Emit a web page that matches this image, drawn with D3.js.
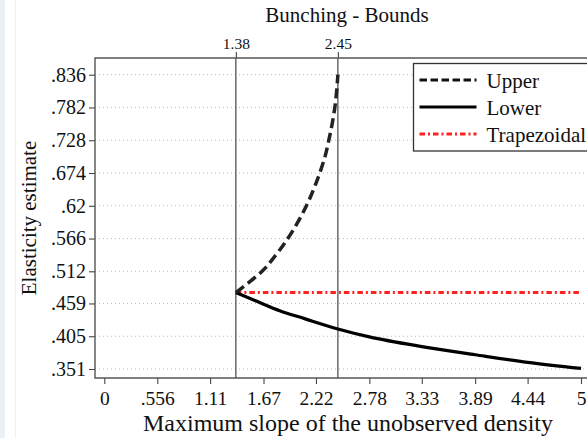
<!DOCTYPE html>
<html>
<head>
<meta charset="utf-8">
<script src="https://cdn.jsdelivr.net/npm/d3@7"></script>
<style>
  body { margin: 0; background: #fff; }
  svg { display: block; font-family: "Liberation Serif", "Times New Roman", serif; }
</style>
</head>
<body>
<script>
'use strict';

// tick values
let xTicks = [0, 0.556, 1.11, 1.67, 2.22, 2.78, 3.33, 3.89, 4.44, 5];
let xTickLabels = ["0", ".556", "1.11", "1.67", "2.22", "2.78", "3.33", "3.89", "4.44", "5"];
let yTicks = [0.351, 0.405, 0.459, 0.512, 0.566, 0.62, 0.674, 0.728, 0.782, 0.836];
let yTickLabels = [".351", ".405", ".459", ".512", ".566", ".62", ".674", ".728", ".782", ".836"];
let boundTicks = [1.38, 2.45];

// upper bound (dashed)
let upperX = [1.38, 1.52, 1.655, 1.80, 1.925, 2.03, 2.12, 2.195, 2.26, 2.315, 2.355, 2.39, 2.418, 2.437, 2.45];
let upperY = [0.477, 0.494, 0.512, 0.539, 0.566, 0.593, 0.62, 0.647, 0.674, 0.701, 0.728, 0.755, 0.782, 0.809, 0.836];

// lower bound (solid)
let lowerX = [1.38, 1.6, 1.84, 2.1, 2.45, 2.78, 3.33, 3.89, 4.44, 5];
let lowerY = [0.477, 0.4625, 0.447, 0.434, 0.417, 0.404, 0.388, 0.3745, 0.362, 0.352];

// trapezoidal estimate (flat)
let trapX = [1.38, 5];
let trapY = [0.477, 0.477];

let legendLabels = ["Upper", "Lower", "Trapezoidal"];

// layout
let W = 587, H = 438;
let frame = { left: 95, top: 58, bottom: 378, right: 620 };

let svg = d3.select("body").append("svg")
  .attr("width", W)
  .attr("height", H);

let xScale = d3.scaleLinear().domain([0, 5]).range([104.3, 581]);
let yScale = d3.scaleLinear().domain([0.351, 0.836]).range([369, 74.7]);

drawBackground();
drawAxes();
drawLines();
drawLegend();
drawLabels();

function drawBackground() {
  svg.append("rect").attr("width", W).attr("height", H).attr("fill", "#fff");
  svg.append("rect").attr("width", 5).attr("height", H).attr("fill", "#e8f1f4");
  svg.append("line")
    .attr("x1", 15.5).attr("x2", 15.5).attr("y1", 0).attr("y2", H)
    .attr("stroke", "#f0f0f0");
}

function drawAxes() {
  // horizontal dotted gridlines
  svg.append("g")
    .selectAll("line")
    .data(yTicks)
    .enter()
    .append("line")
    .attr("x1", frame.left).attr("x2", W)
    .attr("y1", d => yScale(d)).attr("y2", d => yScale(d))
    .attr("stroke", "#b8b8b8")
    .attr("stroke-width", 1)
    .attr("stroke-dasharray", "1,3");

  // y axis
  let yAxis = d3.axisLeft(yScale)
    .tickValues(yTicks)
    .tickFormat((d, i) => yTickLabels[i])
    .tickSize(6)
    .tickPadding(3);
  let gy = svg.append("g")
    .attr("transform", "translate(" + frame.left + ",0)")
    .call(yAxis);
  gy.select(".domain").remove();

  // x axis
  let xAxis = d3.axisBottom(xScale)
    .tickValues(xTicks)
    .tickFormat((d, i) => xTickLabels[i])
    .tickSize(6)
    .tickPadding(7);
  let gx = svg.append("g")
    .attr("transform", "translate(0," + frame.bottom + ")")
    .call(xAxis);
  gx.select(".domain").remove();

  // top axis with the two bound markers
  let topAxis = d3.axisTop(xScale)
    .tickValues(boundTicks)
    .tickFormat(d3.format(".2f"))
    .tickSize(6)
    .tickPadding(3);
  let gt = svg.append("g")
    .attr("transform", "translate(0," + frame.top + ")")
    .call(topAxis);
  gt.select(".domain").remove();

  gx.selectAll("text").attr("font-size", 19.5);
  gy.selectAll("text").attr("font-size", 20);
  gt.selectAll("text").attr("font-size", 15.5);
  [gx, gy, gt].forEach(g => {
    g.selectAll("text").attr("fill", "#111").attr("font-family", "Liberation Serif");
    g.selectAll(".tick line").attr("stroke", "#444").attr("stroke-width", 1.1);
  });

  // vertical reference lines at the bounds
  svg.append("g")
    .selectAll("line")
    .data(boundTicks)
    .enter()
    .append("line")
    .attr("x1", d => xScale(d)).attr("x2", d => xScale(d))
    .attr("y1", frame.top).attr("y2", frame.bottom)
    .attr("stroke", "#333")
    .attr("stroke-width", 1.1);

  // plot region outline
  svg.append("path")
    .attr("d", "M" + frame.right + "," + frame.top + "H" + frame.left + "V" + frame.bottom + "H" + frame.right)
    .attr("fill", "none")
    .attr("stroke", "#555")
    .attr("stroke-width", 1.4);
}

function drawLines() {
  let line = d3.line()
    .x(d => xScale(d[0]))
    .y(d => yScale(d[1]))
    .curve(d3.curveMonotoneX);

  // upper curve is steep near the top, so interpolate along y
  let lineY = d3.line()
    .x(d => xScale(d[0]))
    .y(d => yScale(d[1]))
    .curve(d3.curveMonotoneY);

  svg.append("path")
    .datum(trapX.map((x, i) => [x, trapY[i]]))
    .attr("d", line)
    .attr("fill", "none")
    .attr("stroke", "#ff2020")
    .attr("stroke-width", 3)
    .attr("stroke-dasharray", "5.5,3,2,3");

  svg.append("path")
    .datum(lowerX.map((x, i) => [x, lowerY[i]]))
    .attr("d", line)
    .attr("fill", "none")
    .attr("stroke", "#000")
    .attr("stroke-width", 3.2);

  svg.append("path")
    .datum(upperX.map((x, i) => [x, upperY[i]]))
    .attr("d", lineY)
    .attr("fill", "none")
    .attr("stroke", "#222")
    .attr("stroke-width", 3.5)
    .attr("stroke-dasharray", "10,5");
}

function drawLegend() {
  let lx = 413.5, ly = 63.5, rowH = 27;
  let g = svg.append("g");

  g.append("rect")
    .attr("x", lx).attr("y", ly)
    .attr("width", 200).attr("height", 87.5)
    .attr("fill", "#fff")
    .attr("stroke", "#333")
    .attr("stroke-width", 1.3);

  let styles = [
    { stroke: "#111", dash: "7.5,3.5" },
    { stroke: "#000", dash: null },
    { stroke: "#ff2020", dash: "5.5,3,2,3" }
  ];

  legendLabels.forEach((label, i) => {
    let y = ly + 16.5 + i * rowH;
    g.append("line")
      .attr("x1", lx + 6).attr("x2", lx + 63)
      .attr("y1", y).attr("y2", y)
      .attr("stroke", styles[i].stroke)
      .attr("stroke-width", 3.2)
      .attr("stroke-dasharray", styles[i].dash);
    g.append("text")
      .attr("x", lx + 73)
      .attr("y", y + 8)
      .attr("font-size", 21)
      .attr("fill", "#111")
      .text(label);
  });
}

function drawLabels() {
  // title
  svg.append("text")
    .attr("x", 347)
    .attr("y", 21.5)
    .attr("text-anchor", "middle")
    .attr("font-size", 21)
    .attr("fill", "#111")
    .text("Bunching - Bounds");

  // x axis label
  svg.append("text")
    .attr("x", 348)
    .attr("y", 430.5)
    .attr("text-anchor", "middle")
    .attr("font-size", 24)
    .attr("fill", "#111")
    .text("Maximum slope of the unobserved density");

  // y axis label
  svg.append("text")
    .attr("transform", "translate(36,218) rotate(-90)")
    .attr("text-anchor", "middle")
    .attr("font-size", 21)
    .attr("fill", "#111")
    .text("Elasticity estimate");
}
</script>
</body>
</html>
